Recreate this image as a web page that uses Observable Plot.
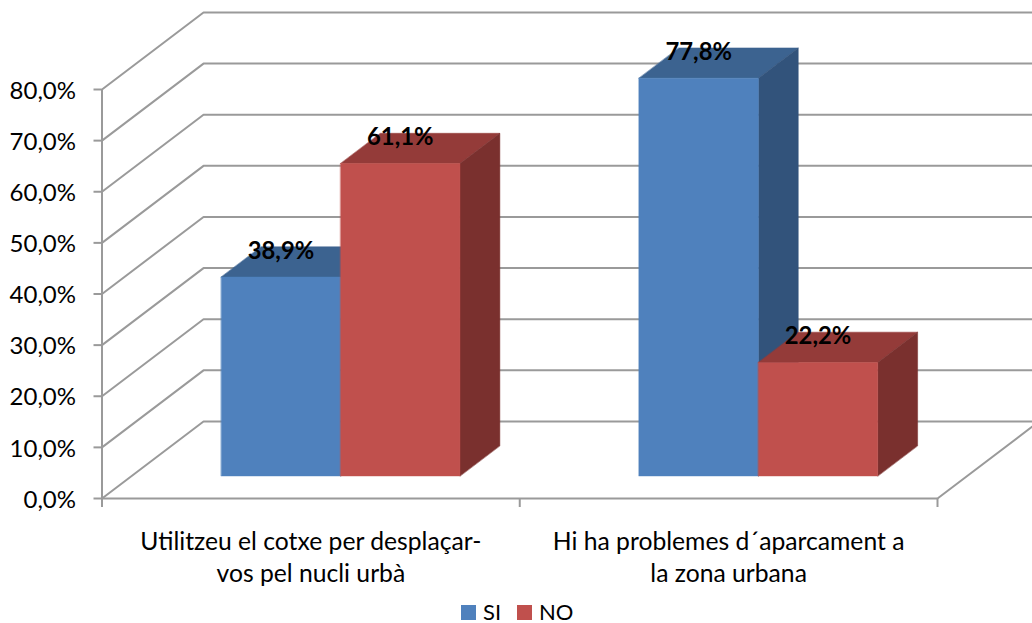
<!DOCTYPE html>
<html>
<head>
<meta charset="utf-8">
<script src="https://cdn.jsdelivr.net/npm/d3@7"></script>
<script src="https://cdn.jsdelivr.net/npm/@observablehq/plot@0.6"></script>
<style>
html,body{margin:0;padding:0;background:#fff;overflow:hidden}
#legend{position:relative;height:28px;font:22px Lato,sans-serif;color:#000}
#legend span{position:absolute}
.sw{width:15px;height:15px;top:10px}
.lb{top:3px;line-height:28px}
</style>
</head>
<body>
<div id="chart"></div>
<div id="legend"></div>
<script>
const categories = ["Utilitzeu el cotxe per desplaçar-\nvos pel nucli urbà", "Hi ha problemes d´aparcament a\nla zona urbana"];
const seriesNames = ["SI", "NO"];
const valuesSI = [38.9, 77.8];
const valuesNO = [61.1, 22.2];
const yTicks = [0, 10, 20, 30, 40, 50, 60, 70, 80];
const xTicks = [0, 1, 2];
const frontColors = ["#4F81BD", "#C0504D"];
const topColors = ["#3C6390", "#943B39"];
const sideColors = ["#32537B", "#7A302E"];
const gridColor = "#9A9A9A";

// Oblique 3D projection expressed in data units of the two scales
const depthX = 0.243, depthY = 15.07;
const proj = (x, y, d) => ({x: x + d * depthX, y: y + d * depthY});
const barW = 1 / 3.5, d0 = 0.293, d1 = 0.686;

const grid = yTicks.flatMap(v => [proj(0, v, 0), proj(0, v, 1), proj(2.03, v, 1)].map(p => ({...p, v})));
const floor = [proj(2, 0, 0), proj(2, 0, 1)];

const polys = [];
const labels = [];
categories.forEach((c, i) => {
  [valuesSI[i], valuesNO[i]].forEach((v, s) => {
    const x0 = i + 0.75 * barW + s * barW, x1 = x0 + barW;
    const add = (kind, color, pts) => pts.forEach(p => polys.push({...p, id: `${i}-${s}-${kind}`, color}));
    add("top", topColors[s], [proj(x0, v, d0), proj(x1, v, d0), proj(x1, v, d1), proj(x0, v, d1)]);
    add("side", sideColors[s], [proj(x1, 0, d0), proj(x1, v, d0), proj(x1, v, d1), proj(x1, 0, d1)]);
    add("front", frontColors[s], [proj(x0, 0, d0), proj(x1, 0, d0), proj(x1, v, d0), proj(x0, v, d0)]);
    labels.push({...proj((x0 + x1) / 2, v, d0), text: v.toFixed(1).replace(".", ",") + "%"});
  });
});

const fmt = d => d3.format(".1f")(d).replace(".", ",") + "%";
const font = "Lato, sans-serif";

const plot = Plot.plot({
  width: 1032,
  height: 595,
  marginLeft: 101.5,
  marginRight: 95,
  marginTop: 89,
  marginBottom: 97,
  style: {background: "#fff", fontFamily: font, color: "#000"},
  x: {domain: [0, 2], axis: null},
  y: {domain: [0, 80], axis: null},
  marks: [
    Plot.line(grid, {x: "x", y: "y", z: "v", stroke: gridColor, strokeWidth: 2, curve: "linear"}),
    Plot.line(floor, {x: "x", y: "y", stroke: gridColor, strokeWidth: 2}),
    Plot.ruleX([0], {y1: 0, y2: 80, stroke: gridColor, strokeWidth: 2}),
    Plot.ruleY([0], {x1: 0, x2: 2, stroke: gridColor, strokeWidth: 2}),
    Plot.axisY({ticks: yTicks, tickSize: 8, text: null, stroke: gridColor, strokeWidth: 2, label: null}),
    Plot.axisY({ticks: yTicks, tickSize: 0, tickPadding: 26, dy: 1.5, tickFormat: fmt, fontSize: 24, fill: "#000", label: null}),
    Plot.axisX({ticks: xTicks, tickSize: 9, text: null, stroke: gridColor, strokeWidth: 2, label: null}),
    Plot.line(polys, {x: "x", y: "y", z: "id", fill: "color", stroke: "color", strokeWidth: 0.5, curve: "linear-closed"}),
    Plot.text(labels, {x: "x", y: "y", text: "text", dy: -26, fontSize: 23.8, fontWeight: "bold", fill: "#000"}),
    Plot.text(categories, {x: (d, i) => i + 0.5, y: 0, text: d => d, frameAnchor: "bottom", dy: 57, lineHeight: 1.3, fontSize: 24.7, fill: "#000", textAnchor: "middle", lineAnchor: "middle"})
  ]
});
document.getElementById("chart").appendChild(plot);

const lg = document.getElementById("legend");
const swX = [461, 517], lbX = [483, 539];
seriesNames.forEach((n, i) => {
  const s = document.createElement("span"); s.className = "sw"; s.style.left = swX[i] + "px"; s.style.background = frontColors[i]; lg.appendChild(s);
  const t = document.createElement("span"); t.className = "lb"; t.style.left = lbX[i] + "px"; t.textContent = n; lg.appendChild(t);
});
</script>
</body>
</html>
